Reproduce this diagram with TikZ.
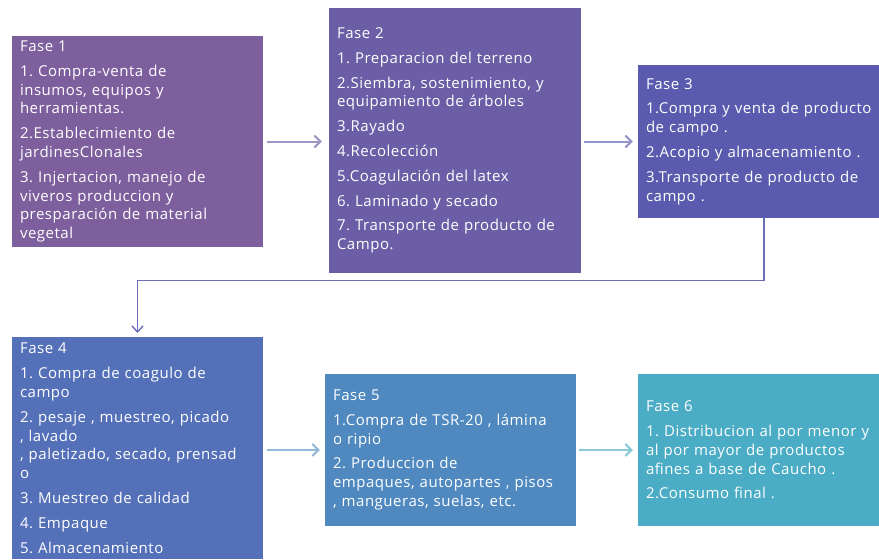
\documentclass[tikz,border=0pt]{standalone}
\usepackage{fontspec}
\setmainfont{Open Sans}[LetterSpace=3.5]
\usetikzlibrary{arrows.meta}
\frenchspacing

\definecolor{fase1}{HTML}{7E5F9E}
\definecolor{fase2}{HTML}{6B5DA6}
\definecolor{fase3}{HTML}{5A5BAE}
\definecolor{fase4}{HTML}{5470B9}
\definecolor{fase5}{HTML}{4F89C0}
\definecolor{fase6}{HTML}{4AACC5}

\tikzset{
 fase/.style={inner xsep=8pt, inner ysep=5pt, text=white, align=left, anchor=center,
  font=\fontsize{15}{18.8}\selectfont},
 flecha/.style={line width=2pt, -{Straight Barb[length=6pt,width=12pt]}}
}

\begin{document}
\begin{tikzpicture}[x=1pt,y=-1pt]
 \useasboundingbox (0,0) rectangle (879,560);

% premiere ligne
\node [fase, fill=fase1, text width=235pt, minimum height=209pt] (f1) at (137.5,141.5)
 {Fase 1\\[6pt]
  1. Compra-venta de\\ insumos, equipos y\\ herramientas.\\[6pt]
  2.Establecimiento de\\ jardinesClonales\\[6pt]
  3. Injertacion, manejo de\\ viveros produccion y\\ presparación de material\\ vegetal};
\node [fase, fill=fase2, text width=236pt, minimum height=265pt] (f2) at (455,140.5)
 {Fase 2\\[6pt]
  1. Preparacion del terreno\\[6pt]
  2.Siembra, sostenimiento, y\\ equipamiento de árboles\\[6pt]
  3.Rayado\\[6pt]
  4.Recolección\\[6pt]
  5.Coagulación del latex\\[6pt]
  6. Laminado y secado\\[6pt]
  7. Transporte de producto de\\ Campo.};
\node [fase, fill=fase3, text width=236pt, minimum height=153pt] (f3) at (764,141.5)
 {Fase 3\\[6pt]
  1.Compra y venta de producto\\ de campo .\\[6pt]
  2.Acopio y almacenamiento .\\[6pt]
  3.Transporte de producto de\\ campo .};

% deuxieme ligne
\node [fase, fill=fase4, text width=235pt, anchor=north, inner ysep=6pt] (f4) at (137.5,337)
 {Fase 4\\[6pt]
  1. Compra de coagulo de\\ campo\\[6pt]
  2. pesaje , muestreo, picado\\ , lavado\\ , paletizado, secado, prensad\\ o\\[6pt]
  3. Muestreo de calidad\\[6pt]
  4. Empaque\\[6pt]
  5. Almacenamiento};
\node [fase, fill=fase5, text width=235pt, minimum height=152pt] (f5) at (450.5,450)
 {Fase 5\\[6pt]
  1.Compra de TSR-20 , lámina\\ o ripio\\[6pt]
  2. Produccion de\\ empaques, autopartes , pisos\\ , mangueras, suelas, etc.};
\node [fase, fill=fase6, text width=236pt, minimum height=152pt] (f6) at (764,450)
 {Fase 6\\[6pt]
  1. Distribucion al por menor y\\ al por mayor de productos\\ afines a base de Caucho .\\[6pt]
  2.Consumo final .};

\draw [flecha, draw=fase2!65!white, shorten <=4pt, shorten >=7pt] (f1.east) -- (f2.west |- f1.east);
\draw [flecha, draw=fase3!65!white, shorten <=3pt, shorten >=5pt] (f2.east |- f3.west) -- (f3.west);
\draw [flecha, draw=fase5!60!white, shorten <=4pt, shorten >=5pt] (f4.east |- f5.west) -- (f5.west);
\draw [flecha, draw=fase6!65!white, shorten <=3pt, shorten >=5pt] (f5.east) -- (f6.west);
\draw [line width=1.4pt, draw=fase3!90!white, -{Straight Barb[length=6pt,width=11pt]}, shorten >=4pt]
 (f3.south) -- ++(0,62) -| (f4.north);
\end{tikzpicture}
\end{document}
